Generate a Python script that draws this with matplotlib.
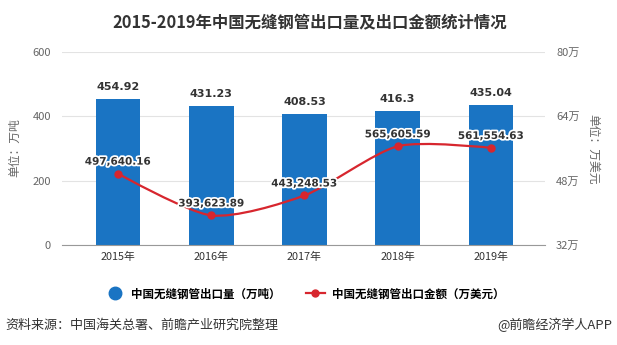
import numpy as np
import matplotlib
matplotlib.use("Agg")
from matplotlib import pyplot as plt
from matplotlib.path import Path
from matplotlib.patches import PathPatch
from matplotlib.lines import Line2D
import matplotlib.patheffects as pe

plt.rcParams['font.family'] = ['Noto Sans CJK SC', 'DejaVu Sans']

years = ['2015年', '2016年', '2017年', '2018年', '2019年']
volume = [454.92, 431.23, 408.53, 416.3, 435.04]          # 万吨
amount = [497640.16, 393623.89, 443248.53, 565605.59, 561554.63]  # 万美元
left_ticks = [0, 200, 400, 600]
right_ticks = [320000, 480000, 640000, 800000]
right_labels = ['32万', '48万', '64万', '80万']

bar_col = '#1a74c3'
line_col = '#d7262e'
grey = '#666666'
dark = '#333333'

fig = plt.figure(figsize=(6.17, 3.45), dpi=100)
ax = fig.add_axes([62 / 617, 1 - 245 / 345, 483 / 617, 193 / 345])
ax2 = ax.twinx()

x = np.arange(len(years))
ax.bar(x, volume, width=0.48, color=bar_col, zorder=2)
ax.set_ylim(0, 600)
ax.set_xlim(-0.5 - 0.1, 4.5 + 0.08)
ax.set_yticks(left_ticks)
ax.set_xticks(x)
ax.set_xticklabels(years)
ax.grid(axis='y', color='#e3e3e3', lw=0.8, zorder=0)
ax.set_axisbelow(True)
for s in ['top', 'left', 'right']:
    ax.spines[s].set_visible(False)
ax.spines['bottom'].set_color('#999999')
ax.tick_params(axis='y', length=0, pad=8, labelsize=8, labelcolor=grey)
ax.tick_params(axis='x', length=0, pad=5, labelsize=7.8, labelcolor=dark)

for xi, v in zip(x, volume):
    ax.annotate(f'{v:g}', (xi, v), xytext=(0, 5), textcoords='offset points',
                ha='center', va='bottom', fontsize=8, fontweight='bold', color=dark,
                family='DejaVu Sans')

ax2.set_ylim(320000, 800000)
ax2.set_yticks(right_ticks)
ax2.set_yticklabels(right_labels)
for s in ['top', 'left', 'right', 'bottom']:
    ax2.spines[s].set_visible(False)
ax2.tick_params(axis='y', length=0, pad=8, labelsize=8, labelcolor=grey)

# smooth line via bezier segments through the data points
pts = np.column_stack([x, amount]).astype(float)
sm = 0.25
verts = [pts[0]]
codes = [Path.MOVETO]
n = len(pts)
for i in range(n - 1):
    p0, p1 = pts[i], pts[i + 1]
    d0 = (pts[i + 1] - pts[i - 1]) if i > 0 else np.zeros(2)
    d1 = (pts[i + 2] - pts[i]) if i + 2 < n else np.zeros(2)
    verts += [p0 + sm * d0 / 2, p1 - sm * d1 / 2, p1]
    codes += [Path.CURVE4] * 3
ax2.add_patch(PathPatch(Path(verts, codes), fill=False, edgecolor=line_col, lw=1.6, zorder=3))
ax2.plot(x, amount, 'o', color=line_col, ms=5, zorder=4)

for xi, v in zip(x, amount):
    ax2.annotate(f'{v:,.2f}', (xi, v), xytext=(0, 5), textcoords='offset points',
                 ha='center', va='bottom', fontsize=7.5, fontweight='bold', color=dark,
                 family='DejaVu Sans',
                 path_effects=[pe.withStroke(linewidth=2.5, foreground='white')], zorder=5)

fig.text(15 / 617, 1 - 148 / 345, '单位：万吨', rotation=90, ha='center', va='center',
         fontsize=8.5, color=grey)
fig.text(593 / 617, 1 - 149 / 345, '单位：万美元', rotation=-90, ha='center', va='center',
         fontsize=8.5, color=grey)

fig.text(310 / 617, 1 - 22 / 345, '2015-2019年中国无缝钢管出口量及出口金额统计情况', ha='center', va='center',
         fontsize=11.8, fontweight='bold', color=dark)

handles = [Line2D([], [], ls='none', marker='o', ms=9, color=bar_col),
           Line2D([], [], color=line_col, lw=1.6, marker='o', ms=5)]
fig.legend(handles, ['中国无缝钢管出口量（万吨）', '中国无缝钢管出口金额（万美元）'],
           loc='center', bbox_to_anchor=(305 / 617, 1 - 294 / 345), ncol=2, frameon=False,
           handlelength=1.6, columnspacing=2.2, handletextpad=0.6,
           prop={'weight': 'bold', 'size': 8.3})

fig.text(5 / 617, 1 - 325 / 345, '资料来源：中国海关总署、前瞻产业研究院整理', ha='left', va='center',
         fontsize=9.4, color=dark)
fig.text(612 / 617, 1 - 325 / 345, '@前瞻经济学人APP', ha='right', va='center',
         fontsize=9.4, color=dark)

fig.savefig('out.png', dpi=100)
